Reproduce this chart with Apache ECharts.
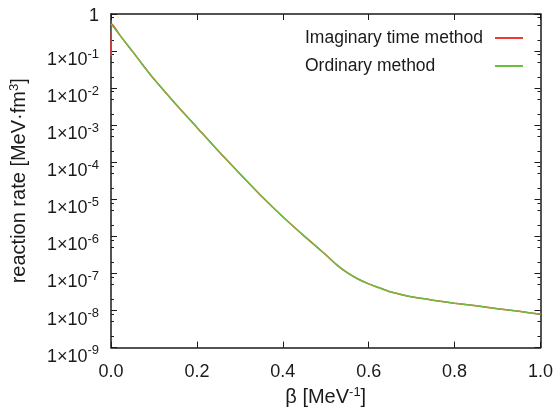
<!DOCTYPE html>
<html><head><meta charset="utf-8">
<script src="https://cdn.jsdelivr.net/npm/echarts@6/dist/echarts.min.js"></script>
<style>html,body{margin:0;padding:0;background:#fff}#c{width:556px;height:412px}</style>
</head><body><div id="c"></div>
<script>
// ---- data ----
const ordinaryBeta = [0, 0.025, 0.05, 0.075, 0.10, 0.15, 0.20, 0.25, 0.30, 0.35, 0.40, 0.45, 0.50, 0.525, 0.55, 0.575, 0.60, 0.625, 0.65, 0.675, 0.70, 0.75, 0.80, 0.85, 0.90, 0.95, 1.00];
const ordinaryRate = [0.54, 0.23, 0.098, 0.041, 0.0176, 3.8e-3, 8.7e-4, 2.0e-4, 4.9e-5, 1.23e-5, 3.4e-6, 1.02e-6, 3.2e-7, 1.74e-7, 1.05e-7, 7.1e-8, 5.25e-8, 4.1e-8, 3.2e-8, 2.7e-8, 2.34e-8, 1.9e-8, 1.58e-8, 1.35e-8, 1.12e-8, 9.5e-9, 7.9e-9];
const imaginaryBeta = [0, 0.003, 0.025, 0.05, 0.075, 0.10, 0.15, 0.20, 0.25, 0.30, 0.35, 0.40, 0.45, 0.50, 0.525, 0.55, 0.575, 0.60, 0.625, 0.65, 0.675, 0.70, 0.75, 0.80, 0.85, 0.90, 0.95, 1.00];
const imaginaryRate = [0.072, 0.53, 0.23, 0.098, 0.041, 0.0176, 3.8e-3, 8.7e-4, 2.0e-4, 4.9e-5, 1.23e-5, 3.4e-6, 1.02e-6, 3.2e-7, 1.74e-7, 1.05e-7, 7.1e-8, 5.25e-8, 4.1e-8, 3.2e-8, 2.7e-8, 2.34e-8, 1.9e-8, 1.58e-8, 1.35e-8, 1.12e-8, 9.5e-9, 7.9e-9];
const seriesNames = ['Imaginary time method', 'Ordinary method'];
const xTicks = [0, 0.2, 0.4, 0.6, 0.8, 1.0];
const yMinExp = -9, yMaxExp = 0;
const minorMultipliers = [2, 5, 8];

const FONT = 'Liberation Sans';
const INK = '#1a1a1a';
const RED = '#f03a3a', GREEN = '#6cbf3c';
const minorExps = [];
for (let k = yMinExp; k < yMaxExp; k++) minorMultipliers.forEach(m => minorExps.push(k + Math.log10(m)));

const axisLine = { show: true, onZero: false, lineStyle: { color: INK, width: 1.5 } };
const majorTick = { show: true, inside: true, length: 6, lineStyle: { color: INK, width: 1 } };
const minorTickAx = { show: true, inside: true, length: 3, lineStyle: { color: INK, width: 1 }, customValues: minorExps };

const chart = echarts.init(document.getElementById('c'));
chart.setOption({
  animation: false,
  backgroundColor: '#fff',
  grid: { left: 111, right: 15, top: 14, bottom: 62 },
  legend: {
    data: [{ name: seriesNames[0], icon: 'rect' }, { name: seriesNames[1], icon: 'rect' }],
    orient: 'vertical',
    left: 305, top: 29, padding: 0,
    align: 'right',
    itemWidth: 28, itemHeight: 2, itemGap: 10,
    formatter: n => '{t|' + n + '}',
    textStyle: { fontFamily: FONT, fontSize: 17.5, color: INK, rich: { t: { width: 185, lineHeight: 21, align: 'left', fontFamily: FONT, fontSize: 17.5, color: INK } } }
  },
  xAxis: [
    {
      type: 'value', min: xTicks[0], max: xTicks[xTicks.length - 1], interval: 0.2, position: 'bottom',
      axisLine, axisTick: majorTick, splitLine: { show: false },
      axisLabel: { formatter: v => v.toFixed(1), fontFamily: FONT, fontSize: 18, color: INK, margin: 15 },
      name: '{m|β [MeV}{s|-1}{m|]}', nameLocation: 'middle', nameGap: 37,
      nameTextStyle: { rich: { m: { fontFamily: FONT, fontSize: 20, color: INK }, s: { fontFamily: FONT, fontSize: 13, color: INK, padding: [0, 0, 10, 0] } } }
    },
    {
      type: 'value', min: xTicks[0], max: xTicks[xTicks.length - 1], interval: 0.2, position: 'top',
      axisLine, axisTick: majorTick, axisLabel: { show: false }, splitLine: { show: false }
    }
  ],
  yAxis: [
    {
      type: 'log', logBase: 10, min: Math.pow(10, yMinExp), max: Math.pow(10, yMaxExp), splitNumber: 9, position: 'left',
      axisLine, axisTick: majorTick, splitLine: { show: false }, minorTick: { show: false },
      axisLabel: {
        margin: 12,
        formatter: v => { const e = Math.round(Math.log10(v)); return e === 0 ? '{o|1}' : '{b|1×10}{s|' + e + '}'; },
        rich: {
          o: { fontFamily: FONT, fontSize: 18, color: INK, padding: [4, 0, 0, 0] },
          b: { fontFamily: FONT, fontSize: 18, color: INK, padding: [18, 0, 0, 0] },
          s: { fontFamily: FONT, fontSize: 13, color: INK, padding: [6, 0, 0, 0] }
        }
      },
      name: '{m|reaction rate [MeV·fm}{s|3}{m|]}', nameLocation: 'middle', nameRotate: 90, nameGap: 80,
      nameTextStyle: { rich: { m: { fontFamily: FONT, fontSize: 20, color: INK }, s: { fontFamily: FONT, fontSize: 13, color: INK, padding: [0, 0, 10, 0] } } }
    },
    {
      type: 'log', logBase: 10, min: Math.pow(10, yMinExp), max: Math.pow(10, yMaxExp), splitNumber: 9, position: 'right',
      axisLine, axisTick: majorTick, splitLine: { show: false }, axisLabel: { show: false }, minorTick: { show: false }
    },
    {
      type: 'value', min: yMinExp, max: yMaxExp, position: 'left',
      axisLine: { show: false, onZero: false }, axisTick: minorTickAx, axisLabel: { show: false }, splitLine: { show: false }
    },
    {
      type: 'value', min: yMinExp, max: yMaxExp, position: 'right',
      axisLine: { show: false, onZero: false }, axisTick: minorTickAx, axisLabel: { show: false }, splitLine: { show: false }
    }
  ],
  series: [
    {
      name: seriesNames[0], type: 'line', xAxisIndex: 0, yAxisIndex: 0, symbol: 'none', smooth: 0.25,
      lineStyle: { color: RED, width: 1.5 }, itemStyle: { color: RED },
      data: imaginaryBeta.map((b, i) => [b, imaginaryRate[i]])
    },
    {
      name: seriesNames[1], type: 'line', xAxisIndex: 0, yAxisIndex: 0, symbol: 'none', smooth: 0.25,
      lineStyle: { color: GREEN, width: 1.5 }, itemStyle: { color: GREEN },
      data: ordinaryBeta.map((b, i) => [b, ordinaryRate[i]])
    }
  ]
});
</script></body></html>
